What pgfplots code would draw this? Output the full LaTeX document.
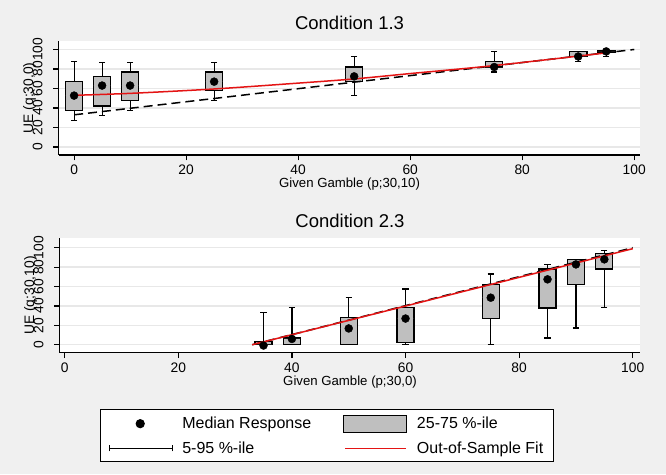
\documentclass[border=0pt]{standalone}
\usepackage{fontspec}
\setmainfont{Liberation Sans}
\usepackage{pgfplots}
\pgfplotsset{compat=1.18}
\usepgfplotslibrary{statistics}
\definecolor{bgc}{RGB}{240,240,240}
\definecolor{boxg}{RGB}{191,191,191}
\definecolor{fitred}{RGB}{228,20,20}
\definecolor{gridc}{RGB}{232,232,232}
\pgfplotsset{
 panel/.style={
  scale only axis,
  anchor=south west,
  axis x line=bottom, axis y line=left,
  axis line style={-, line width=1.2pt, black},
  axis background/.style={fill=white},
  xtick={0,20,...,100}, ytick={0,20,...,100},
  tick align=outside, major tick length=5.5pt,
  tick style={black, line width=1.2pt},
  ymajorgrids, major grid style={gridc, line width=1.3pt},
  /pgf/number format/assume math mode=true,
  tick label style={font=\fontsize{13.8}{16}\selectfont},
  yticklabel style={xshift=-10.8pt, rotate=90, anchor=base},
  xticklabel style={anchor=base, yshift=-14.5pt},
  title style={font=\fontsize{18.5}{22}\selectfont, anchor=base, at={(0.5,1)}, yshift=5pt},
  xlabel style={font=\fontsize{13.2}{16}\selectfont, at={([yshift=-33pt]axis description cs:0.5,0)}, anchor=base},
  ylabel style={font=\fontsize{13.8}{16}\selectfont, at={([xshift=-25.5pt]axis description cs:0,0.5)}, anchor=base},
  boxplot/draw direction=y,
  boxplot/every median/.style={draw=none},
 },
 bx/.style={forget plot, draw=black, fill=boxg, line width=1.2pt, solid},
}
\begin{document}
\begin{tikzpicture}
\fill[bgc] (0,0) rectangle (666pt,474pt);
% ---------------- top panel
\begin{axis}[panel, at={(58.7pt,319pt)}, width=581.7pt, height=114.3pt,
  xmin=-2.75, xmax=101.1, ymin=-8.2, ymax=109,
  title={Condition 1.3}, xlabel={Given Gamble (p;30,10)}, ylabel={UE (q;30,0)}]
\addplot[bx, boxplot prepared={draw position=0, lower whisker=26.9, lower quartile=37.4, median=52.7, upper quartile=67, upper whisker=87.4, box extend=3.1, whisker extend=1.1}] coordinates {};
\addplot[bx, boxplot prepared={draw position=5, lower whisker=32, lower quartile=42, median=63, upper quartile=72, upper whisker=87, box extend=3.1, whisker extend=1.1}] coordinates {};
\addplot[bx, boxplot prepared={draw position=10, lower whisker=37.4, lower quartile=47.6, median=63, upper quartile=77, upper whisker=87, box extend=3.1, whisker extend=1.1}] coordinates {};
\addplot[bx, boxplot prepared={draw position=25, lower whisker=47.6, lower quartile=57.8, median=67, upper quartile=77, upper whisker=87, box extend=3.1, whisker extend=1.1}] coordinates {};
\addplot[bx, boxplot prepared={draw position=50, lower whisker=52.7, lower quartile=67, median=72.4, upper quartile=82, upper whisker=92.5, box extend=3.1, whisker extend=1.1}] coordinates {};
\addplot[bx, boxplot prepared={draw position=75, lower whisker=77, lower quartile=82, median=82, upper quartile=87.4, upper whisker=97.6, box extend=3.1, whisker extend=1.1}] coordinates {};
\addplot[bx, boxplot prepared={draw position=90, lower whisker=87.4, lower quartile=92.5, median=92.5, upper quartile=98, upper whisker=98, box extend=3.1, whisker extend=1.1}] coordinates {};
\addplot[bx, boxplot prepared={draw position=95, lower whisker=93, lower quartile=97.5, median=98, upper quartile=98.5, upper whisker=99, box extend=3.1, whisker extend=1.1}] coordinates {};
\addplot[forget plot, black, line width=1.5pt, dash pattern=on 9pt off 5pt] coordinates {(0,33) (100,100)};
\addplot[forget plot, fitred, line width=1.5pt, smooth] coordinates {(0,53) (10,55) (25,59.5) (40,65.5) (50,69.8) (60,75.3) (75,83.5) (95,96.5)};
\addplot[forget plot, only marks, mark=*, mark size=4pt, black] coordinates {(0,52.7) (5,63) (10,63) (25,67) (50,72.4) (75,82) (90,92.8) (95,98)};
\end{axis}
% ---------------- bottom panel
\begin{axis}[panel, at={(59.6pt,121.3pt)}, width=580.8pt, height=114.4pt,
  xmin=-0.9, xmax=101.35, ymin=-8.2, ymax=109.7,
  title={Condition 2.3}, xlabel={Given Gamble (p;30,0)}, ylabel={UE (q;30,10)},
  legend columns=2, legend cell align=left,
  legend style={at={(0.0696,-0.492)}, anchor=north west, draw=black, line width=1.2pt, fill=white,
    font=\fontsize{16}{19}\selectfont, inner xsep=8pt, inner ysep=5pt, column sep=7.5pt, row sep=7pt,
    /tikz/every even column/.append style={column sep=30pt}}]
\addplot[bx, boxplot prepared={draw position=35, lower whisker=0, lower quartile=0, median=0, upper quartile=3, upper whisker=33, box extend=3, whisker extend=1.1}] coordinates {};
\addplot[bx, boxplot prepared={draw position=40, lower whisker=0, lower quartile=0, median=6, upper quartile=7, upper whisker=38.5, box extend=3, whisker extend=1.1}] coordinates {};
\addplot[bx, boxplot prepared={draw position=50, lower whisker=0, lower quartile=0, median=16.8, upper quartile=27.8, upper whisker=48.8, box extend=3, whisker extend=1.1}] coordinates {};
\addplot[bx, boxplot prepared={draw position=60, lower whisker=0, lower quartile=2.7, median=27, upper quartile=38, upper whisker=57.4, box extend=3, whisker extend=1.1}] coordinates {};
\addplot[bx, boxplot prepared={draw position=75, lower whisker=0, lower quartile=27, median=48.5, upper quartile=62.2, upper whisker=72.9, box extend=3, whisker extend=1.1}] coordinates {};
\addplot[bx, boxplot prepared={draw position=85, lower whisker=6.9, lower quartile=37.8, median=67.4, upper quartile=78, upper whisker=83, box extend=3, whisker extend=1.1}] coordinates {};
\addplot[bx, boxplot prepared={draw position=90, lower whisker=17.2, lower quartile=62.2, median=82.8, upper quartile=88, upper whisker=88, box extend=3, whisker extend=1.1}] coordinates {};
\addplot[bx, boxplot prepared={draw position=95, lower whisker=38, lower quartile=78, median=88, upper quartile=94, upper whisker=97, box extend=3, whisker extend=1.1}] coordinates {};
\addplot[forget plot, black, line width=1.5pt, dash pattern=on 9pt off 5pt] coordinates {(33,0) (100,100)};
\addplot[forget plot, fitred, line width=1.5pt] coordinates {(33,0) (100,99)};
\addplot[forget plot, only marks, mark=*, mark size=4pt, black] coordinates {(35,-0.8) (40,6) (50,16.8) (60,27) (75,48.5) (85,67.4) (90,82.8) (95,88)};
\addlegendimage{legend image code/.code={\path[draw=none, fill=none] (0pt,-8.5pt) rectangle (63pt,8.5pt); \fill[black] (31pt,0pt) circle (4pt);}}
\addlegendentry{Median Response}
\addlegendimage{legend image code/.code={\draw[fill=boxg, draw=black, line width=1.2pt] (0pt,-8.5pt) rectangle (63pt,8.5pt);}}
\addlegendentry{25-75 \%-ile}
\addlegendimage{legend image code/.code={\path[draw=none, fill=none] (0pt,-8.5pt) rectangle (63pt,8.5pt); \draw[black, line width=1.2pt] (0pt,0pt) -- (63pt,0pt); \draw[black, line width=1.2pt] (0pt,-3pt) -- (0pt,3pt); \draw[black, line width=1.2pt] (63pt,-3pt) -- (63pt,3pt);}}
\addlegendentry{5-95 \%-ile}
\addlegendimage{legend image code/.code={\path[draw=none, fill=none] (0pt,-8.5pt) rectangle (63pt,8.5pt); \draw[fitred, line width=1.3pt] (1.5pt,0pt) -- (62pt,0pt);}}
\addlegendentry{Out-of-Sample Fit}
\end{axis}
\end{tikzpicture}
\end{document}
